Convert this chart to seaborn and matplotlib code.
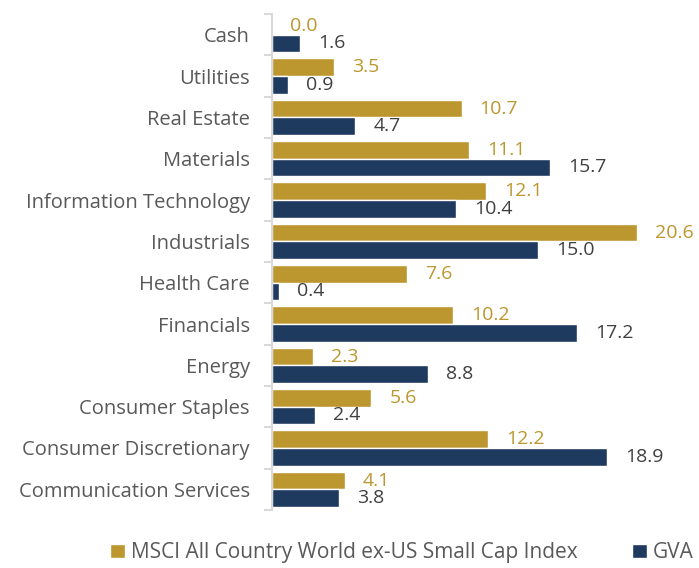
import numpy as np
import pandas as pd
import matplotlib
matplotlib.use("Agg")
import matplotlib.pyplot as plt
import seaborn as sns

# dados do gráfico (de cima para baixo)
sectors = ["Cash", "Utilities", "Real Estate", "Materials", "Information Technology",
           "Industrials", "Health Care", "Financials", "Energy", "Consumer Staples",
           "Consumer Discretionary", "Communication Services"]
msci = [0.0, 3.5, 10.7, 11.1, 12.1, 20.6, 7.6, 10.2, 2.3, 5.6, 12.2, 4.1]
gva = [1.6, 0.9, 4.7, 15.7, 10.4, 15.0, 0.4, 17.2, 8.8, 2.4, 18.9, 3.8]
series_names = ["MSCI All Country World ex-US Small Cap Index", "GVA"]

gold = "#BC962E"
navy = "#1F3A5F"
grey_text = "#595959"

df = pd.DataFrame({
    "sector": sectors * 2,
    "value": msci + gva,
    "series": [series_names[0]] * len(sectors) + [series_names[1]] * len(sectors),
})

sns.set_style("white")
plt.rcParams["font.family"] = ["Open Sans", "DejaVu Sans"]

fig = plt.figure(figsize=(6.99, 5.68), dpi=100)
ax = fig.add_axes([272 / 699, 1 - 510 / 568, 1 - 272 / 699, 496 / 568])

sns.barplot(data=df, x="value", y="sector", hue="series", orient="h",
            palette=[gold, navy], width=0.85, saturation=1, ax=ax, legend=True)

# rótulos de valor
for cont, col in zip(ax.containers, [gold, "#404040"]):
    ax.bar_label(cont, fmt="%.1f", padding=13, color=col, fontsize=14)

ax.set_xlim(0, 24.1)
ax.set_ylim(len(sectors) - 0.5, -0.5)
ax.set_xlabel("")
ax.set_ylabel("")
ax.set_xticks([])
for s in ["top", "right", "bottom"]:
    ax.spines[s].set_visible(False)
ax.spines["left"].set_color("#D9D9D9")
ax.spines["left"].set_linewidth(1.5)

ax.set_yticks(np.arange(len(sectors)))
ax.set_yticklabels(sectors, fontsize=14.5, color=grey_text)
ax.set_yticks(np.arange(len(sectors) + 1) - 0.5, minor=True)
ax.tick_params(axis="y", which="major", left=False, length=0, pad=16)
ax.tick_params(axis="y", which="minor", left=True, length=6, width=1.5, color="#D9D9D9")

handles, labels = ax.get_legend_handles_labels()
ax.get_legend().remove()
fig.legend(handles, labels, loc="lower center", bbox_to_anchor=(402 / 699, -0.025),
           ncol=2, frameon=False, fontsize=15, handlelength=0.7, handleheight=0.7,
           handletextpad=0.3, columnspacing=2.6, labelcolor=grey_text)

fig.savefig("out.png", dpi=100)
